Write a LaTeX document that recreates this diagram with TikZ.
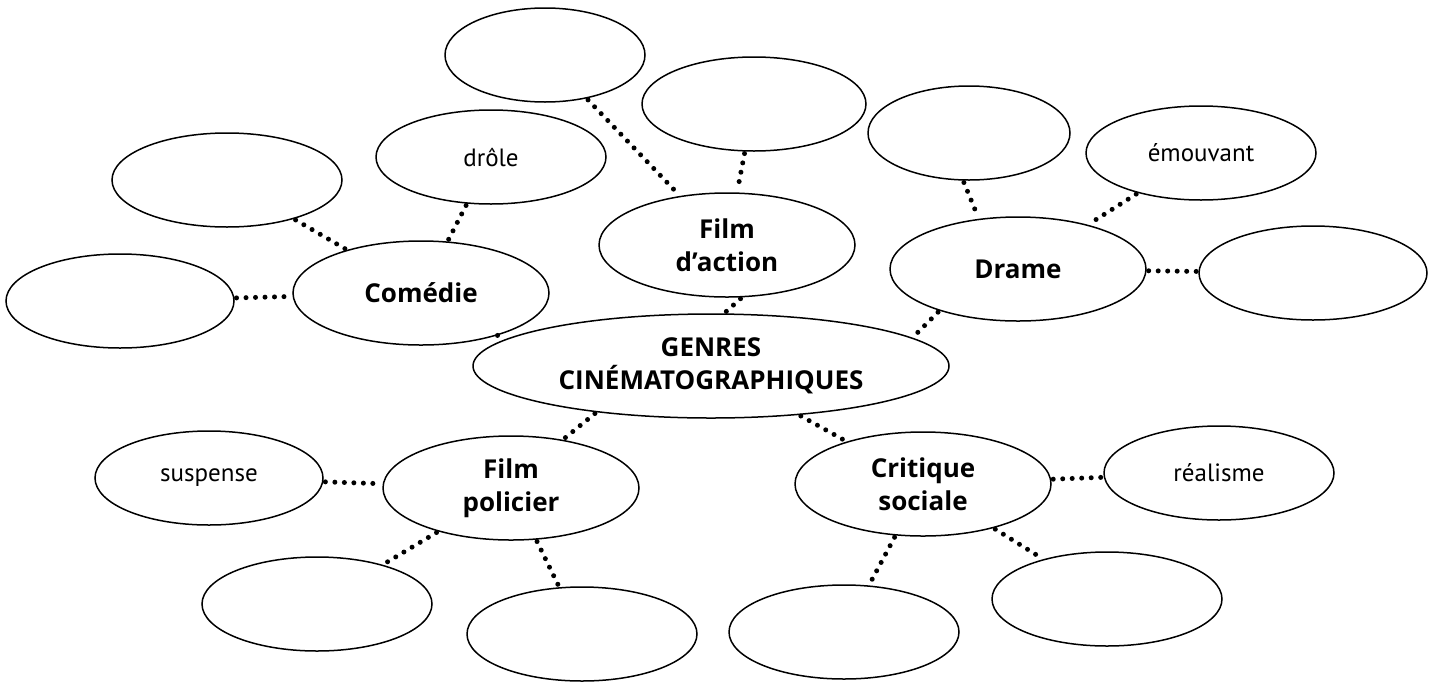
\documentclass[tikz,border=0pt]{standalone}
\usepackage{fontspec}
\setmainfont{PT Sans}
\newfontfamily\hubfont{Open Sans}
\usetikzlibrary{shapes.geometric}
\begin{document}
\begin{tikzpicture}[x=1pt,y=-1pt,
  bubble/.style={draw, ellipse, line width=1.5pt, inner sep=0pt, align=center},
  hub/.style={bubble, minimum width=256pt, minimum height=104pt, font=\hubfont\bfseries\fontsize{26}{33}\selectfont},
  leaf/.style={bubble, minimum width=230pt, minimum height=94pt, font=\fontsize{25}{30}\selectfont},
  dots/.style={line width=5pt, line cap=round, dash pattern=on 0pt off 9.5pt, shorten >=2pt, shorten <=2pt}]
\useasboundingbox (0,0) rectangle (1439,681);
% centre
\node[hub, minimum width=476pt] (g) at (711,366) {GENRES\\CINÉMATOGRAPHIQUES};
% hubs
\node[hub] (comedie) at (421,293) {Comédie};
\node[hub] (action) at (727,245) {Film\\d’action};
\node[hub, minimum width=256pt] (drame) at (1018,269) {Drame};
\node[hub] (policier) at (511,488) {Film\\policier};
\node[hub] (critique) at (923,484) {Critique\\sociale};
% leaves
\node[leaf] (c1) at (227,180) {};
\node[leaf, minimum width=228pt] (c2) at (120,301) {};
\node[leaf] (drole) at (491,157) {drôle};
\node[leaf, minimum width=200pt] (a1) at (545,55) {};
\node[leaf, minimum width=224pt] (a2) at (754,104) {};
\node[leaf, minimum width=202pt] (d1) at (969,133) {};
\node[leaf] (emouvant) at (1201,153) {émouvant};
\node[leaf, minimum width=228pt] (d2) at (1313,273) {};
\node[leaf, minimum width=228pt] (suspense) at (209,478) {suspense};
\node[leaf] (p1) at (317,604) {};
\node[leaf] (p2) at (582,634) {};
\node[leaf] (s1) at (844,632) {};
\node[leaf] (s2) at (1107,599) {};
\node[leaf] (realisme) at (1219,473) {réalisme};
% connectors
\draw[dots] (c2) -- (comedie);
\draw[dots] (c1) -- (comedie);
\draw[dots] (drole) -- (comedie);
\draw[dots, shorten >=0pt, shorten <=0pt] (comedie.-29) -- (g.174);
\draw[dots] (a1) -- (action);
\draw[dots] (a2) -- (action);
\draw[dots] (action.-74) -- (g.76);
\draw[dots] (d1.-97) -- (drame.128);
\draw[dots] (emouvant) -- (drame);
\draw[dots] (drame) -- (d2);
\draw[dots] (drame.208) -- (g.8);
\draw[dots] (g.202) -- (policier.43);
\draw[dots] (suspense) -- (policier);
\draw[dots] (policier) -- (p1);
\draw[dots] (policier) -- (p2);
\draw[dots] (g) -- (critique);
\draw[dots] (critique) -- (realisme);
\draw[dots] (critique) -- (s1);
\draw[dots] (critique) -- (s2);
\end{tikzpicture}
\end{document}
